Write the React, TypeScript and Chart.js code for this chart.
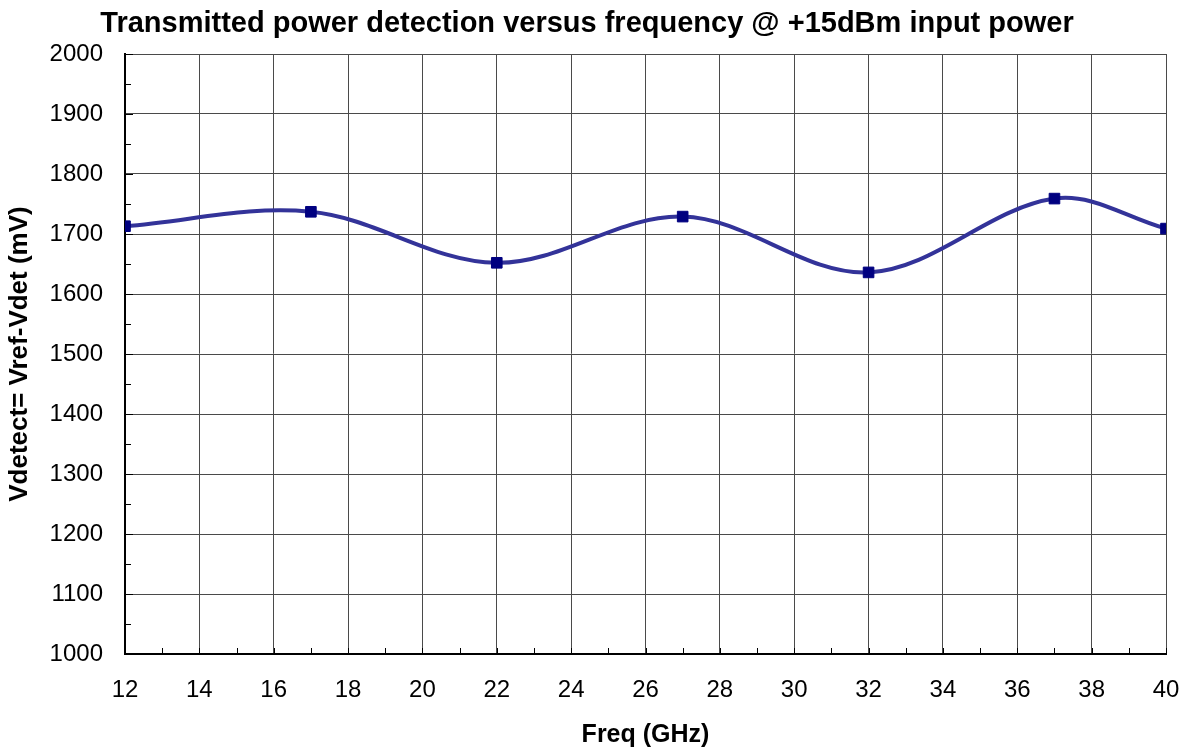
import React, { useEffect, useRef } from 'react';
import { Chart, registerables } from 'chart.js';

Chart.register(...registerables);

// ---- data ----
const freqGHz = [12, 17, 22, 27, 32, 37, 40];
const vdetectMv = [1713, 1737, 1652, 1729, 1636, 1759, 1709];

// ---- axes ----
const xMin = 12;
const xMax = 40;
const xStep = 2;
const xMinorStep = 1;
const yMin = 1000;
const yMax = 2000;
const yStep = 100;
const yMinorStep = 50;

// ---- text ----
const chartTitle = 'Transmitted power detection versus frequency @ +15dBm input power';
const xTitle = 'Freq (GHz)';
const yTitle = 'Vdetect= Vref-Vdet (mV)';

const FONT = "'Liberation Sans', Arial, Helvetica, sans-serif";

const innerTicks = {
  id: 'innerTicks',
  afterDatasetsDraw(chart: any) {
    const { ctx, chartArea, scales } = chart;
    const xs = scales.x;
    const ys = scales.y;
    ctx.save();
    ctx.strokeStyle = '#000';
    ctx.lineWidth = 1;
    ctx.beginPath();
    for (let v = yMin; v <= yMax + 1e-9; v += yMinorStep) {
      const y = Math.round(ys.getPixelForValue(v)) + 0.5;
      const major = Math.abs((v - yMin) % yStep) < 1e-9;
      ctx.moveTo(chartArea.left, y);
      ctx.lineTo(chartArea.left + (major ? 8 : 6), y);
    }
    for (let v = xMin; v <= xMax + 1e-9; v += xMinorStep) {
      const x = Math.round(xs.getPixelForValue(v)) + 0.5;
      ctx.moveTo(x, chartArea.bottom);
      ctx.lineTo(x, chartArea.bottom - 6);
    }
    ctx.stroke();
    ctx.restore();
  },
};

const titlePlugin = {
  id: 'customTitle',
  afterDraw(chart: any) {
    const { ctx } = chart;
    ctx.save();
    ctx.fillStyle = '#000';
    ctx.font = `bold 29px ${FONT}`;
    ctx.textAlign = 'center';
    ctx.textBaseline = 'middle';
    ctx.fillText(chartTitle, 587, 24);
    ctx.restore();
  },
};

export default function App() {
  const ref = useRef<HTMLCanvasElement | null>(null);

  useEffect(() => {
    document.body.style.margin = '0';
    const canvas = ref.current;
    if (!canvas) return;
    const chart = new Chart(canvas, {
      type: 'line',
      data: {
        datasets: [
          {
            label: 'Vdetect',
            data: freqGHz.map((f, i) => ({ x: f, y: vdetectMv[i] })),
            borderColor: '#333399',
            borderWidth: 4,
            tension: 0.35,
            pointStyle: 'rect',
            pointRadius: 7.5,
            pointBorderWidth: 1,
            pointBackgroundColor: '#000080',
            pointBorderColor: '#000080',
            fill: false,
          },
        ],
      },
      options: {
        responsive: false,
        devicePixelRatio: 1,
        animation: false,
        layout: { padding: { top: 54, right: 26, left: 0, bottom: 0 } },
        plugins: {
          legend: { display: false },
          title: { display: false },
          tooltip: { enabled: false },
        },
        scales: {
          x: {
            type: 'linear',
            min: xMin,
            max: xMax,
            afterFit(scale: any) {
              scale.height = 97;
              scale.paddingLeft = 0;
              scale.paddingRight = 0;
            },
            ticks: {
              stepSize: xStep,
              color: '#000',
              font: { family: FONT, size: 24 },
              padding: 22,
              maxRotation: 0,
              callback: (v: any) => String(v),
            },
            grid: { color: '#4a4a4a', lineWidth: 1, drawTicks: false },
            border: { color: '#000', width: 2 },
            title: {
              display: true,
              text: xTitle,
              color: '#000',
              font: { family: FONT, size: 25, weight: 'bold' },
              padding: { top: 0, bottom: 1 },
            },
          },
          y: {
            type: 'linear',
            min: yMin,
            max: yMax,
            afterFit(scale: any) {
              scale.width = 125;
              scale.paddingTop = 0;
              scale.paddingBottom = 0;
            },
            ticks: {
              stepSize: yStep,
              color: '#000',
              font: { family: FONT, size: 24 },
              padding: 22,
              callback: (v: any) => String(v),
            },
            grid: { color: '#4a4a4a', lineWidth: 1, drawTicks: false },
            border: { color: '#000', width: 2 },
            title: {
              display: true,
              text: yTitle,
              color: '#000',
              font: { family: FONT, size: 26, weight: 'bold' },
              padding: { top: 4, bottom: 0 },
            },
          },
        },
      },
      plugins: [innerTicks, titlePlugin],
    });
    return () => chart.destroy();
  }, []);

  return (
    <div style={{ position: 'absolute', left: 0, top: 0, width: 1192, height: 751, background: '#fff' }}>
      <canvas ref={ref} width={1192} height={751} />
    </div>
  );
}
